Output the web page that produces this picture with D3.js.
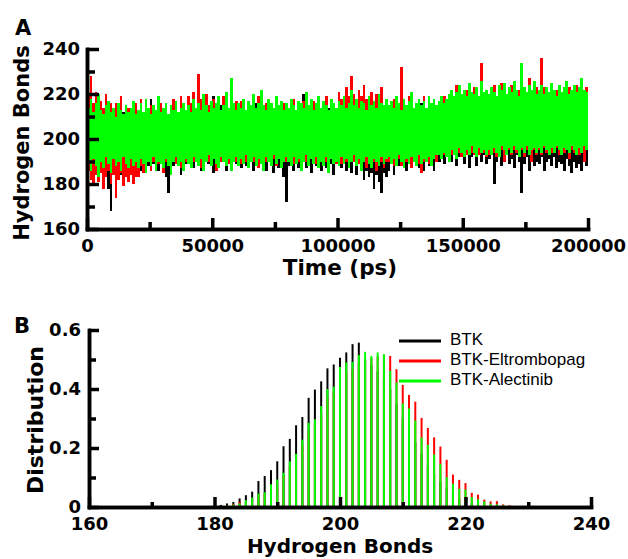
<!DOCTYPE html>
<html lang="en">
<head>
    <meta charset="UTF-8">
    <title>Hydrogen Bonds</title>
    <script src="https://d3js.org/d3.v7.min.js"></script>
    <style>
        body { margin: 0; background: #fff; }
        .tick text { font-family: "DejaVu Sans", sans-serif; font-weight: bold; font-size: 18px; fill: #000; }
        .title { font-family: "DejaVu Sans", sans-serif; font-weight: bold; fill: #000; }
        .legend text { font-family: "Liberation Sans", Arial, sans-serif; font-size: 17px; fill: #000; }
    </style>
</head>
<body>
<svg width="628" height="559"></svg>
<script>
    // Panel A: the traces are very dense, so each is kept as the lowest and
    // highest hydrogen bond count seen in every 1000 ps window (200 windows)
    const binSize = 1000;
    const btkHigh = [
        210, 213, 208, 212, 211, 209, 213, 210, 208, 212, 211, 209, 213, 210, 212, 208, 211, 213, 210, 209,
        211, 213, 209, 214, 210, 218, 215, 211, 213, 209, 212, 214, 210, 212, 211, 213, 209, 212, 210, 213,
        212, 210, 214, 211, 213, 212, 215, 211, 213, 210, 219, 212, 211, 215, 213, 211, 212, 214, 210, 213,
        213, 211, 214, 212, 215, 210, 213, 216, 212, 214, 211, 213, 215, 212, 214, 211, 213, 215, 212, 214,
        212, 214, 211, 213, 215, 212, 220, 211, 213, 216, 212, 214, 211, 213, 215, 212, 214, 213, 211, 214,
        213, 211, 215, 212, 214, 213, 211, 215, 212, 214, 216, 212, 213, 211, 214, 212, 215, 213, 211, 214,
        212, 214, 213, 215, 211, 213, 214, 212, 215, 213, 211, 214, 212, 216, 213, 211, 214, 212, 215, 213,
        214, 216, 213, 215, 217, 214, 216, 218, 215, 217, 214, 216, 218, 215, 217, 216, 219, 215, 217, 216,
        216, 218, 215, 217, 219, 216, 218, 215, 217, 219, 216, 218, 220, 217, 215, 218, 216, 219, 217, 218,
        217, 219, 216, 218, 215, 219, 217, 220, 216, 218, 219, 217, 216, 219, 218, 216, 219, 217, 220, 218
    ];
    const btkLow = [
        192, 188, 193, 186, 185, 191, 189, 190, 178, 168, 186, 190, 188, 184, 191, 190, 189, 186, 190, 191,
        189, 186, 191, 187, 188, 190, 189, 188, 186, 191, 189, 183, 176, 186, 188, 190, 189, 184, 188, 189,
        191, 189, 187, 192, 190, 186, 188, 192, 189, 190, 185, 191, 189, 190, 192, 186, 189, 188, 192, 189,
        190, 187, 191, 188, 189, 192, 186, 190, 188, 191, 188, 186, 192, 190, 185, 191, 187, 189, 183, 172,
        188, 190, 186, 191, 187, 188, 192, 187, 190, 185, 191, 188, 189, 186, 190, 187, 187, 189, 184, 191,
        190, 187, 191, 186, 189, 185, 190, 184, 189, 188, 182, 186, 183, 185, 178, 184, 181, 176, 185, 183,
        186, 191, 184, 190, 188, 192, 189, 186, 191, 187, 192, 190, 187, 191, 186, 192, 188, 190, 186, 191,
        190, 193, 189, 194, 192, 190, 194, 188, 192, 195, 189, 193, 187, 192, 195, 188, 194, 190, 193, 189,
        191, 194, 180, 190, 193, 188, 192, 195, 189, 191, 187, 193, 190, 176, 189, 192, 186, 191, 188, 190,
        189, 192, 186, 190, 191, 188, 192, 187, 190, 189, 186, 191, 188, 185, 190, 187, 189, 186, 191, 188
    ];
    const eltHigh = [
        219, 228, 216, 221, 218, 217, 214, 220, 215, 216, 213, 216, 212, 219, 210, 213, 214, 212, 215, 216,
        211, 218, 210, 216, 212, 215, 213, 211, 217, 216, 212, 214, 210, 213, 218, 215, 210, 219, 214, 211,
        219, 216, 221, 212, 229, 218, 217, 220, 215, 214, 218, 213, 217, 211, 219, 218, 212, 221, 214, 217,
        214, 217, 215, 211, 215, 213, 218, 212, 219, 220, 213, 216, 215, 214, 212, 217, 213, 215, 216, 214,
        212, 216, 218, 211, 215, 214, 217, 219, 213, 216, 217, 214, 217, 212, 215, 219, 211, 216, 214, 212,
        221, 218, 217, 223, 219, 228, 220, 216, 222, 219, 224, 218, 217, 221, 215, 220, 218, 223, 213, 216,
        213, 215, 218, 217, 214, 232, 216, 213, 219, 218, 212, 215, 216, 213, 219, 212, 217, 214, 216, 213,
        215, 217, 219, 216, 218, 220, 217, 224, 222, 218, 220, 222, 223, 219, 223, 221, 218, 234, 219, 220,
        218, 221, 224, 217, 222, 225, 223, 218, 221, 224, 224, 220, 222, 226, 221, 219, 227, 220, 224, 223,
        220, 236, 223, 221, 219, 223, 220, 222, 222, 219, 221, 224, 223, 220, 222, 224, 221, 225, 220, 223
    ];
    const eltLow = [
        186, 182, 179, 184, 181, 185, 178, 183, 186, 180, 184, 174, 182, 185, 179, 183, 181, 184, 180, 183,
        183, 188, 185, 187, 191, 186, 190, 188, 189, 191, 185, 190, 189, 186, 191, 189, 190, 187, 188, 190,
        191, 188, 190, 192, 189, 187, 188, 191, 190, 189, 192, 186, 189, 190, 192, 190, 189, 188, 191, 190,
        190, 189, 191, 190, 189, 192, 190, 190, 187, 191, 188, 190, 192, 190, 191, 188, 192, 189, 191, 190,
        191, 190, 189, 191, 190, 188, 192, 190, 190, 192, 190, 189, 190, 192, 189, 190, 188, 192, 190, 189,
        190, 189, 191, 190, 189, 192, 190, 190, 189, 188, 191, 187, 190, 189, 190, 186, 189, 190, 187, 190,
        190, 191, 188, 190, 191, 188, 189, 190, 191, 187, 191, 190, 189, 185, 190, 191, 189, 190, 192, 190,
        194, 192, 193, 194, 192, 193, 195, 193, 194, 192, 194, 193, 195, 194, 193, 194, 193, 195, 194, 192,
        193, 195, 194, 192, 194, 195, 190, 194, 195, 193, 195, 194, 193, 195, 192, 195, 194, 190, 195, 193,
        195, 193, 196, 194, 195, 194, 195, 196, 193, 195, 194, 196, 191, 195, 194, 195, 193, 195, 190, 196
    ];
    const aleHigh = [
        214, 218, 212, 216, 220, 213, 211, 215, 217, 212, 214, 210, 216, 213, 211, 215, 212, 214, 217, 211,
        213, 216, 212, 218, 214, 211, 215, 213, 219, 212, 214, 216, 211, 215, 213, 217, 212, 214, 216, 213,
        215, 212, 218, 214, 216, 213, 220, 215, 212, 217, 214, 216, 219, 213, 215, 221, 214, 227, 216, 213,
        216, 214, 218, 213, 217, 215, 220, 214, 216, 222, 215, 213, 218, 216, 214, 219, 215, 217, 213, 216,
        214, 218, 215, 213, 217, 216, 214, 221, 215, 218, 213, 216, 219, 214, 217, 215, 213, 218, 216, 214,
        217, 215, 219, 214, 216, 222, 215, 218, 214, 217, 216, 213, 219, 215, 217, 214, 220, 216, 215, 218,
        215, 217, 214, 219, 216, 213, 218, 215, 217, 221, 214, 216, 218, 215, 217, 214, 219, 216, 218, 215,
        217, 219, 216, 218, 220, 222, 219, 221, 224, 220, 222, 219, 225, 221, 220, 223, 219, 226, 221, 222,
        220, 223, 221, 219, 224, 222, 225, 220, 223, 221, 226, 222, 219, 234, 223, 221, 224, 222, 226, 220,
        222, 224, 220, 223, 221, 225, 222, 219, 224, 221, 223, 226, 220, 222, 224, 221, 223, 227, 222, 221
    ];
    const aleLow = [
        190, 186, 191, 188, 183, 190, 187, 192, 189, 185, 191, 188, 190, 186, 192, 189, 187, 191, 188, 190,
        187, 191, 189, 185, 190, 188, 192, 186, 190, 189, 187, 191, 188, 184, 190, 192, 188, 190, 186, 191,
        189, 187, 192, 190, 188, 191, 186, 190, 193, 188, 191, 189, 187, 192, 190, 188, 191, 186, 190, 192,
        188, 191, 189, 193, 187, 190, 192, 188, 191, 189, 186, 192, 190, 188, 193, 189, 191, 187, 190, 192,
        190, 188, 192, 189, 191, 186, 190, 193, 188, 191, 189, 192, 187, 190, 188, 192, 185, 191, 189, 190,
        188, 192, 189, 191, 187, 190, 193, 188, 191, 186, 190, 192, 189, 187, 191, 190, 188, 192, 189, 191,
        192, 189, 191, 188, 193, 190, 187, 191, 189, 192, 190, 188, 193, 189, 191, 190, 192, 188, 191, 193,
        193, 191, 194, 192, 190, 195, 193, 191, 196, 194, 192, 195, 193, 197, 194, 192, 196, 194, 195, 193,
        195, 193, 196, 194, 192, 197, 195, 193, 196, 194, 197, 195, 192, 196, 194, 197, 193, 195, 196, 194,
        196, 194, 197, 195, 193, 196, 194, 197, 195, 193, 196, 195, 194, 197, 195, 193, 196, 194, 197, 195
    ];

    // Panel B: distribution of hydrogen bond counts
    const bondCounts = [
        181, 182, 183, 184, 185, 186, 187, 188, 189, 190,
        191, 192, 193, 194, 195, 196, 197, 198, 199, 200,
        201, 202, 203, 204, 205, 206, 207, 208, 209, 210,
        211, 212, 213, 214, 215, 216, 217, 218, 219, 220,
        221, 222, 223, 224, 225, 226, 227, 228, 229
    ];
    const btkDist = [
        0.007, 0.012, 0.017, 0.029, 0.04, 0.052, 0.088, 0.105, 0.125, 0.155,
        0.206, 0.231, 0.277, 0.305, 0.37, 0.398, 0.426, 0.47, 0.483, 0.506,
        0.524, 0.552, 0.557, 0.50, 0.48, 0.46, 0.43, 0.40, 0.35, 0.30,
        0.26, 0.22, 0.18, 0.14, 0.11, 0.085, 0.065, 0.045, 0.03, 0.02,
        0.012, 0.008, 0.005, 0.003, 0.002, 0.001, 0, 0, 0
    ];
    const eltDist = [
        0.002, 0.004, 0.01, 0.018, 0.02, 0.028, 0.04, 0.045, 0.07, 0.085,
        0.105, 0.14, 0.165, 0.21, 0.26, 0.28, 0.32, 0.37, 0.39, 0.44,
        0.46, 0.47, 0.49, 0.50, 0.505, 0.51, 0.515, 0.512, 0.467, 0.414,
        0.38, 0.357, 0.302, 0.268, 0.236, 0.205, 0.16, 0.11, 0.092, 0.081,
        0.048, 0.042, 0.025, 0.019, 0.02, 0.009, 0.006, 0.003, 0.001
    ];
    const aleDist = [
        0.003, 0.005, 0.008, 0.012, 0.023, 0.032, 0.045, 0.05, 0.077, 0.093,
        0.116, 0.155, 0.18, 0.228, 0.285, 0.297, 0.342, 0.40, 0.408, 0.475,
        0.49, 0.492, 0.515, 0.526, 0.512, 0.524, 0.518, 0.462, 0.422, 0.351,
        0.334, 0.293, 0.236, 0.211, 0.178, 0.146, 0.101, 0.079, 0.062, 0.059,
        0.034, 0.026, 0.019, 0.011, 0.009, 0.006, 0.003, 0.001, 0
    ];

    const seriesNames = ["BTK", "BTK-Eltrombopag", "BTK-Alectinib"];
    const seriesColors = ["#000000", "#ff0000", "#00ff00"];

    const timeMajor = [0, 50000, 100000, 150000, 200000];
    const timeMinor = [25000, 75000, 125000, 175000];
    const hbMajor = [160, 180, 200, 220, 240];
    const hbMinor = [170, 190, 210, 230];
    const distMajor = [0, 0.2, 0.4, 0.6];
    const distMinor = [0.1, 0.3, 0.5];

    const svg = d3.select("svg");
    const axisWidth = 3.5;

    // heavy axis lines like the original
    const styleAxis = (sel) => {
        sel.selectAll("path.domain").attr("stroke-width", axisWidth).attr("stroke-linecap", "square");
        sel.selectAll(".tick line").attr("stroke-width", axisWidth);
    };

    // ---------- Panel A ----------
    const xA = d3.scaleLinear().domain([0, 200000]).range([87, 588]);
    const yA = d3.scaleLinear().domain([160, 240]).range([229, 49]);

    const envelopes = [[btkLow, btkHigh], [eltLow, eltHigh], [aleLow, aleHigh]];
    const binW = xA(binSize) - xA(0);

    envelopes.forEach(([lo, hi], s) => {
        svg.append("g")
            .attr("shape-rendering", "crispEdges")
            .selectAll("rect")
            .data(lo)
            .join("rect")
            .attr("x", (d, i) => xA(i * binSize))
            .attr("width", binW + 0.3)
            .attr("y", (d, i) => yA(hi[i]))
            .attr("height", (d, i) => yA(d) - yA(hi[i]))
            .attr("fill", seriesColors[s]);
    });

    svg.append("g")
        .attr("transform", `translate(0,${yA(160)})`)
        .call(d3.axisBottom(xA).tickValues(timeMinor).tickSize(-7).tickSizeOuter(0).tickFormat(""))
        .call(styleAxis);
    svg.append("g")
        .attr("transform", `translate(0,${yA(160)})`)
        .call(d3.axisBottom(xA).tickValues(timeMajor).tickSize(-11).tickSizeOuter(0)
            .tickPadding(8).tickFormat(d3.format("d")))
        .call(styleAxis)
        .selectAll(".tick text").attr("dy", "0.85em");

    svg.append("g")
        .attr("transform", `translate(${xA(0)},0)`)
        .call(d3.axisLeft(yA).tickValues(hbMinor).tickSize(-8).tickSizeOuter(0).tickFormat(""))
        .call(styleAxis);
    svg.append("g")
        .attr("transform", `translate(${xA(0)},0)`)
        .call(d3.axisLeft(yA).tickValues(hbMajor).tickSize(-12).tickSizeOuter(0).tickPadding(7))
        .call(styleAxis);

    svg.append("text").attr("class", "title")
        .attr("x", 15).attr("y", 35).style("font-size", "21px").text("A");
    svg.append("text").attr("class", "title")
        .attr("transform", "translate(29,143) rotate(-90)")
        .attr("text-anchor", "middle").style("font-size", "21px")
        .text("Hydrogen Bonds");
    svg.append("text").attr("class", "title")
        .attr("x", 340).attr("y", 275).attr("text-anchor", "middle")
        .style("font-size", "21.5px").text("Time (ps)");

    // ---------- Panel B ----------
    const xB = d3.scaleLinear().domain([160, 240]).range([89, 591]);
    const yB = d3.scaleLinear().domain([0, 0.6]).range([507, 330]);

    [btkDist, eltDist, aleDist].forEach((vals, s) => {
        svg.append("g").selectAll("line")
            .data(vals)
            .join("line")
            .attr("x1", (d, i) => xB(bondCounts[i]))
            .attr("x2", (d, i) => xB(bondCounts[i]))
            .attr("y1", yB(0))
            .attr("y2", (d) => yB(d))
            .attr("stroke", seriesColors[s])
            .attr("stroke-width", 2);
    });

    svg.append("g")
        .attr("transform", `translate(0,${yB(0)})`)
        .call(d3.axisBottom(xB).tickValues(hbMinor).tickSize(-5).tickSizeOuter(0).tickFormat(""))
        .call(styleAxis);
    svg.append("g")
        .attr("transform", `translate(0,${yB(0)})`)
        .call(d3.axisBottom(xB).tickValues(hbMajor).tickSize(-10).tickSizeOuter(0).tickPadding(8))
        .call(styleAxis)
        .selectAll(".tick text").attr("dy", "0.85em");

    svg.append("g")
        .attr("transform", `translate(${xB(160)},0)`)
        .call(d3.axisLeft(yB).tickValues(distMinor).tickSize(-7).tickSizeOuter(0).tickFormat(""))
        .call(styleAxis);
    svg.append("g")
        .attr("transform", `translate(${xB(160)},0)`)
        .call(d3.axisLeft(yB).tickValues(distMajor).tickSize(-10).tickSizeOuter(0).tickPadding(8)
            .tickFormat((d) => d === 0 ? "0" : d3.format(".1f")(d)))
        .call(styleAxis);

    svg.append("text").attr("class", "title")
        .attr("x", 14).attr("y", 333).style("font-size", "21px").text("B");
    svg.append("text").attr("class", "title")
        .attr("transform", "translate(43,420) rotate(-90)")
        .attr("text-anchor", "middle").style("font-size", "22px")
        .text("Distribution");
    svg.append("text").attr("class", "title")
        .attr("x", 340).attr("y", 553).attr("text-anchor", "middle")
        .style("font-size", "20px").text("Hydrogen Bonds");

    // legend
    const legend = svg.append("g").attr("class", "legend");
    seriesNames.forEach((name, i) => {
        const y = 345 + i * 20;
        legend.append("line")
            .attr("x1", 399).attr("x2", 441)
            .attr("y1", y - 4).attr("y2", y - 4)
            .attr("stroke", seriesColors[i]).attr("stroke-width", 3);
        legend.append("text").attr("x", 450).attr("y", y).text(name);
    });
</script>
</body>
</html>
